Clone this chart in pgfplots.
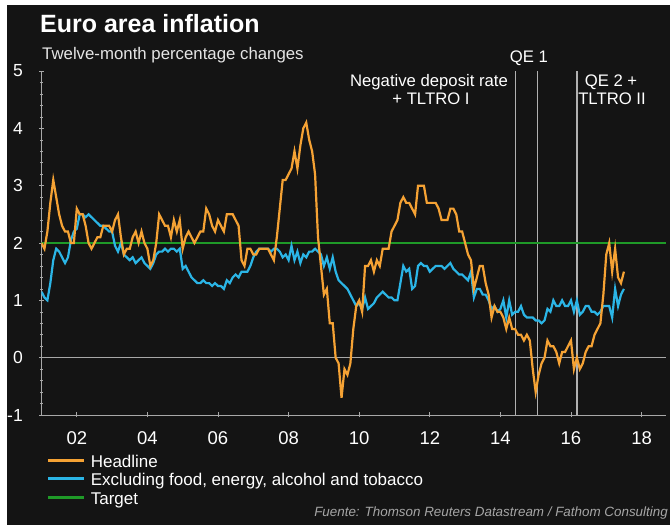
\documentclass[border=0pt]{standalone}
\usepackage{pgfplots}
\pgfplotsset{compat=1.18}
\usepackage{pgfplotstable}
\usepackage{fontspec}
\setmainfont{Liberation Sans}
\definecolor{bg}{HTML}{141414}
\definecolor{hl}{HTML}{F5A234}
\definecolor{core}{HTML}{2BB5E6}
\definecolor{tgt}{HTML}{1F9A28}
\definecolor{axgray}{HTML}{A8A8A8}

\pgfplotstableread{
t h c
0 2.0 1.15
1 1.9 1.05
2 2.2 1.0
3 2.7 1.3
4 3.1 1.7
5 2.8 1.9
6 2.5 1.85
7 2.3 1.75
8 2.2 1.65
9 2.2 1.75
10 2.0 2.05
11 2.0 2.2
12 2.6 2.25
13 2.5 2.5
14 2.5 2.5
15 2.3 2.45
16 2.0 2.5
17 1.9 2.45
18 2.0 2.4
19 2.1 2.35
20 2.1 2.3
21 2.3 2.3
22 2.3 2.25
23 2.3 2.2
24 2.2 2.2
25 2.4 1.95
26 2.5 1.85
27 2.1 2.0
28 1.8 1.8
29 1.9 1.75
30 1.9 1.7
31 2.1 1.75
32 2.2 1.65
33 2.0 1.7
34 2.2 1.75
35 2.0 1.65
36 1.9 1.6
37 1.6 1.55
38 1.7 1.65
39 2.0 1.8
40 2.5 1.85
41 2.4 1.85
42 2.3 1.9
43 2.3 1.85
44 2.1 1.9
45 2.4 1.9
46 2.2 1.85
47 2.4 1.9
48 1.9 1.55
49 2.1 1.6
50 2.2 1.5
51 2.1 1.4
52 2.0 1.35
53 2.1 1.3
54 2.2 1.3
55 2.2 1.35
56 2.6 1.3
57 2.5 1.3
58 2.3 1.25
59 2.2 1.3
60 2.4 1.25
61 2.3 1.25
62 2.2 1.2
63 2.5 1.35
64 2.5 1.3
65 2.5 1.4
66 2.4 1.45
67 2.3 1.4
68 1.7 1.5
69 1.6 1.5
70 1.9 1.5
71 1.9 1.6
72 1.8 1.75
73 1.8 1.85
74 1.9 1.9
75 1.9 1.9
76 1.9 1.9
77 1.9 1.9
78 1.8 1.85
79 1.7 1.9
80 2.1 1.9
81 2.6 1.85
82 3.1 1.75
83 3.1 1.8
84 3.2 1.7
85 3.3 1.95
86 3.6 1.7
87 3.3 1.85
88 3.7 1.65
89 4.0 1.8
90 4.1 1.75
91 3.8 1.85
92 3.6 1.85
93 3.2 1.9
94 2.1 1.85
95 1.6 1.8
96 1.1 1.6
97 1.2 1.75
98 0.6 1.55
99 0.6 1.75
100 0.0 1.5
101 -0.1 1.35
102 -0.7 1.3
103 -0.2 1.25
104 -0.3 1.2
105 -0.1 1.1
106 0.5 1.0
107 0.9 0.9
108 1.0 0.95
109 0.8 0.85
110 1.6 1.05
111 1.6 0.85
112 1.7 0.9
113 1.5 0.95
114 1.7 1.05
115 1.6 1.1
116 1.9 1.15
117 1.9 1.1
118 1.9 1.05
119 2.2 1.05
120 2.3 1.0
121 2.4 1.0
122 2.7 1.3
123 2.8 1.6
124 2.7 1.5
125 2.7 1.55
126 2.6 1.2
127 2.5 1.25
128 3.0 1.6
129 3.0 1.65
130 3.0 1.6
131 2.7 1.6
132 2.7 1.5
133 2.7 1.55
134 2.7 1.6
135 2.6 1.6
136 2.4 1.6
137 2.4 1.55
138 2.4 1.6
139 2.6 1.65
140 2.6 1.55
141 2.5 1.5
142 2.2 1.45
143 2.2 1.45
144 2.0 1.4
145 1.8 1.35
146 1.7 1.5
147 1.2 1.05
148 1.4 1.2
149 1.6 1.2
150 1.6 1.1
151 1.3 1.1
152 1.1 1.0
153 0.7 0.85
154 0.9 0.9
155 0.8 0.8
156 0.8 0.85
157 0.7 1.0
158 0.5 0.7
159 0.7 1.0
160 0.5 0.75
161 0.5 0.8
162 0.4 0.8
163 0.4 0.9
164 0.3 0.75
165 0.4 0.7
166 0.3 0.7
167 -0.2 0.7
168 -0.6 0.65
169 -0.3 0.65
170 -0.1 0.6
171 0.0 0.65
172 0.3 0.85
173 0.2 0.8
174 0.2 1.0
175 0.1 0.9
176 -0.1 0.9
177 0.1 1.0
178 0.1 0.9
179 0.2 0.9
180 0.3 1.0
181 -0.2 0.8
182 0.0 1.0
183 -0.2 0.75
184 -0.1 0.8
185 0.1 0.9
186 0.2 0.9
187 0.2 0.8
188 0.4 0.8
189 0.5 0.75
190 0.6 0.8
191 1.1 0.9
192 1.8 0.9
193 2.0 0.9
194 1.5 0.7
195 1.9 1.2
196 1.4 0.9
197 1.3 1.1
198 1.5 1.2
}\infl

\begin{document}
\begin{tikzpicture}[x=1pt,y=1pt]
\fill[white] (0,0) rectangle (670,525);
\fill[bg] (7,0) rectangle (670,520);
\begin{axis}[
  at={(41.5pt,110pt)}, anchor=south west,
  scale only axis, width=624.8pt, height=344pt,
  xmin=2001, xmax=2018.7, ymin=-1, ymax=5,
  axis x line*=bottom, axis y line*=left,
  axis line style={axgray, line width=0.8pt},
  xtick={2002,2004,...,2018},
  xticklabels={02,04,06,08,10,12,14,16,18},
  minor x tick num=7,
  ytick={-1,0,...,5},
  yticklabels={-1,0,1,2,3,4,5},
  minor y tick num=4,
  tick align=center,
  major tick length=5pt, minor tick length=3pt,
  tick style={axgray, line width=0.6pt},
  /pgf/number format/assume math mode=true,
  xticklabel style={font=\fontsize{18.5}{20}\selectfont, text=white, anchor=base, yshift=-27pt, inner sep=0pt},
  yticklabel style={font=\fontsize{17.5}{19}\selectfont, text=white, anchor=east, xshift=-16pt, inner sep=0pt},
  legend style={at={(0,0)}, anchor=north west, xshift=5.5pt, yshift=-39.5pt,
    draw=none, fill=none, text=white, font=\fontsize{17}{18}\selectfont,
    inner sep=0pt, outer sep=0pt, row sep=0pt,
    nodes={inner sep=0pt, text height=12.5pt, text depth=6pt},
    /tikz/every odd column/.append style={column sep=5pt}},
  legend cell align=left,
  reverse legend,
  legend image code/.code={\draw[#1, line width=2.8pt] (0pt,3.5pt) -- (36pt,3.5pt);},
]
\addplot[forget plot, axgray!90, line width=1.2pt] coordinates {(2014.42,-1) (2014.42,5)};
\addplot[forget plot, axgray!90, line width=1.2pt] coordinates {(2015.05,-1) (2015.05,5)};
\addplot[forget plot, axgray!90, line width=1.2pt] coordinates {(2016.17,-1) (2016.17,5)};
\addplot[forget plot, axgray, line width=1.4pt] coordinates {(2001,0) (2018.7,0)};
\addplot[tgt, line width=2.8pt] coordinates {(2001,2) (2018.7,2)};
\addlegendentry{Target}
\addplot[core, line width=2.2pt] table[x expr=2001+\thisrow{t}/12, y=c] {\infl};
\addlegendentry{Excluding food, energy, alcohol and tobacco}
\addplot[hl, line width=2.2pt] table[x expr=2001+\thisrow{t}/12, y=h] {\infl};
\addlegendentry{Headline}
\end{axis}
\node[anchor=base west, inner sep=0pt, text=white, font=\fontsize{25}{28}\selectfont\bfseries] at (40,492) {Euro area inflation};
\node[anchor=base west, inner sep=0pt, text=white!90!black, font=\fontsize{16.8}{18}\selectfont] at (42,465) {Twelve-month percentage changes};
\begin{scope}[every node/.style={anchor=base, inner sep=0pt, text=white, font=\fontsize{16.7}{18}\selectfont}]
\node at (529,462) {QE 1};
\node at (429,438) {Negative deposit rate};
\node at (431,420) {+ TLTRO I};
\node at (611,438) {QE 2 +};
\node at (612,420) {TLTRO II};
\end{scope}
\node[anchor=base east, inner sep=0pt, text=white!65!black, font=\fontsize{13.4}{15}\selectfont\itshape] at (668,8) {Fuente: Thomson Reuters Datastream / Fathom Consulting};
\pgfresetboundingbox
\useasboundingbox (0,0) rectangle (670,525);
\end{tikzpicture}
\end{document}
